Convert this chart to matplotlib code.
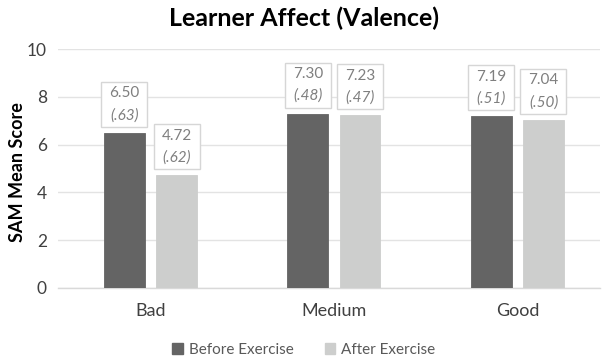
import matplotlib
matplotlib.use("Agg")
import matplotlib.pyplot as plt
from matplotlib.patches import Patch, Rectangle
from matplotlib.transforms import IdentityTransform
import numpy as np

plt.rcParams['font.family'] = ['Lato', 'DejaVu Sans']

categories = ["Bad", "Medium", "Good"]
series_names = ["Before Exercise", "After Exercise"]
before_means = [6.50, 7.30, 7.19]
before_sds = [".63", ".48", ".51"]
after_means = [4.72, 7.23, 7.04]
after_sds = [".62", ".47", ".50"]
yticks = [0, 2, 4, 6, 8, 10]

dark = "#646464"
light = "#cdcecd"
grid_c = "#e3e3e3"
label_c = "#7f7f7f"
text_c = "#404040"

DPI = 100
fig = plt.figure(figsize=(6.02, 3.61), dpi=DPI)
ax = fig.add_axes([58 / 602, 1 - 288 / 361, 542 / 602, 239 / 361])
ax.set_xlim(-0.504, 2.45)
ax.set_ylim(0, 10)

x = np.arange(len(categories))
w = 0.223
off = 0.142
series = [
    (before_means, before_sds, dark),
    (after_means, after_sds, light),
]

box_w, box_h, box_gap = 46, 45, 6   # label frame size and gap above bar, in pixels
for i, (means, sds, col) in enumerate(series):
    xs = x + (-off if i == 0 else off)
    ax.bar(xs, means, width=w, color=col, edgecolor=col, linewidth=0.6, zorder=3)
    for xi, m, s in zip(xs, means, sds):
        px, py = ax.transData.transform((xi, m))
        frame = Rectangle((px - box_w / 2, py + box_gap), box_w, box_h,
                          transform=IdentityTransform(), facecolor="white",
                          edgecolor="#d6d6d6", linewidth=1.0, zorder=4, clip_on=False)
        ax.add_artist(frame)
        ax.annotate(f"{m:.2f}", xy=(xi, m), xytext=(0, 28.3),
                    textcoords="offset points", ha="center", va="center",
                    fontsize=11, color=label_c, zorder=5)
        ax.annotate(f"({s})", xy=(xi, m), xytext=(0, 12.6),
                    textcoords="offset points", ha="center", va="center",
                    fontsize=11, color=label_c, style="italic", zorder=5)

ax.set_yticks(yticks)
ax.set_yticklabels([str(t) for t in yticks], fontsize=12.5, color=text_c)
ax.set_xticks(x)
ax.set_xticklabels(categories, fontsize=13, color=text_c)
ax.tick_params(axis="y", length=0, pad=8)
ax.tick_params(axis="x", length=0, pad=11)
ax.grid(axis="y", color=grid_c, linewidth=1.0, zorder=0)
ax.set_axisbelow(True)
for sp in ["top", "right", "left"]:
    ax.spines[sp].set_visible(False)
ax.spines["bottom"].set_color("#d9d9d9")
ax.spines["bottom"].set_linewidth(1.0)

fig.text(18 / 602, 1 - 172 / 361, "SAM Mean Score", rotation=90, ha="center",
         va="center", fontsize=13, fontweight="bold", color="black")
fig.text(304 / 602, 1 - 18 / 361, "Learner Affect (Valence)", ha="center",
         va="center", fontsize=18, fontweight="bold", color="black")

handles = [Patch(facecolor=dark, edgecolor=dark), Patch(facecolor=light, edgecolor=light)]
fig.legend(handles, series_names, loc="center", bbox_to_anchor=(304 / 602, 1 - 350 / 361),
           ncol=2, frameon=False, fontsize=11, handlelength=0.7, handleheight=0.7,
           handletextpad=0.4, columnspacing=2.0, labelcolor="#595959")

fig.savefig("out.png", dpi=DPI)
